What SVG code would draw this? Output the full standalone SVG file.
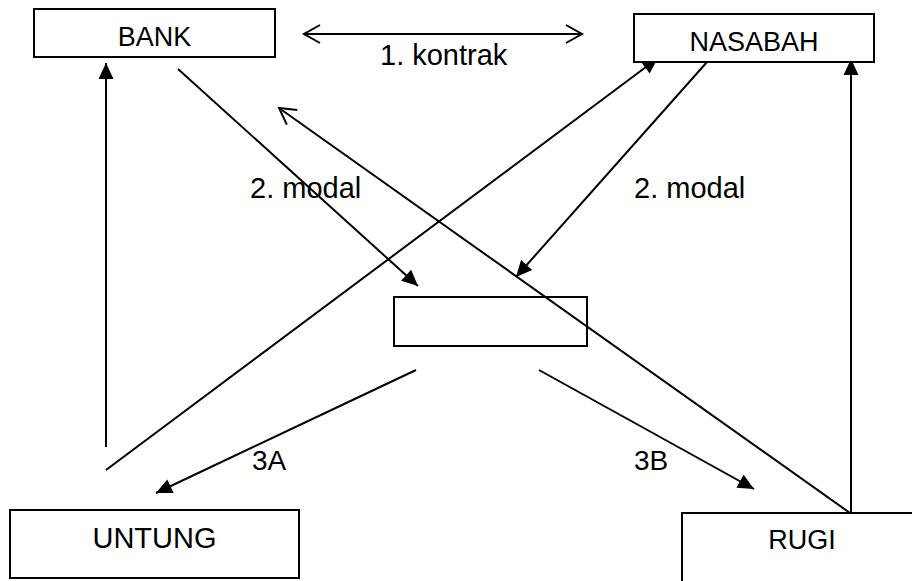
<svg xmlns="http://www.w3.org/2000/svg" width="912" height="581" viewBox="0 0 912 581">
<style>
.box{fill:#fff;stroke:#000;stroke-width:2}
.lbl{font-family:"Liberation Sans",Arial,sans-serif;fill:#000}
.ln{stroke:#000;stroke-width:2;fill:none}
</style>
<defs>
<marker id="fill" markerUnits="userSpaceOnUse" markerWidth="18" markerHeight="16" refX="16" refY="7.5" orient="auto" overflow="visible">
<path d="M0,0 L16,7.5 L0,15 z" fill="#000"/>
</marker>
<marker id="open" markerUnits="userSpaceOnUse" markerWidth="20" markerHeight="22" refX="17" refY="9" orient="auto-start-reverse" overflow="visible">
<path d="M1,0 L17,9 L1,18" fill="none" stroke="#000" stroke-width="2"/>
</marker>
</defs>
<rect width="912" height="581" fill="#fff"/>
<g id="connectors">
<line class="ln" x1="304" y1="34" x2="582" y2="34" marker-start="url(#open)" marker-end="url(#open)"/>
<line class="ln" x1="178" y1="69" x2="418" y2="286" marker-end="url(#fill)"/>
<line class="ln" x1="707" y1="62" x2="516" y2="277" marker-end="url(#fill)"/>
<line class="ln" x1="106" y1="470" x2="658" y2="58" marker-end="url(#fill)"/>
<line class="ln" x1="850" y1="513" x2="279" y2="108" marker-end="url(#open)"/>
<line class="ln" x1="106" y1="447" x2="106" y2="63" marker-end="url(#fill)"/>
<line class="ln" x1="851" y1="513" x2="851" y2="59" marker-end="url(#fill)"/>
<line class="ln" x1="416" y1="370" x2="156" y2="493" marker-end="url(#fill)"/>
<line class="ln" x1="539" y1="370" x2="754" y2="489" marker-end="url(#fill)"/>
<text class="lbl" x="380" y="65" font-size="29">1. kontrak</text>
<text class="lbl" x="250" y="198" font-size="29">2. modal</text>
<text class="lbl" x="634" y="198" font-size="29">2. modal</text>
<text class="lbl" x="252" y="470" font-size="28">3A</text>
<text class="lbl" x="634" y="470" font-size="28">3B</text>
</g>
<g id="bank">
<rect class="box" x="34" y="9" width="241" height="48"/>
<text class="lbl" x="154.5" y="46" font-size="27" text-anchor="middle">BANK</text>
</g>
<g id="nasabah">
<rect class="box" x="634" y="14" width="240" height="48"/>
<text class="lbl" x="754" y="51" font-size="27" text-anchor="middle">NASABAH</text>
</g>
<g id="center">
<rect class="box" x="394" y="297" width="193" height="49" style="fill:none"/>
</g>
<g id="untung">
<rect class="box" x="10" y="510" width="289" height="68"/>
<text class="lbl" x="154.5" y="548" font-size="29" text-anchor="middle">UNTUNG</text>
</g>
<g id="rugi">
<rect class="box" x="682" y="513" width="240" height="80"/>
<text class="lbl" x="802" y="549" font-size="27" text-anchor="middle">RUGI</text>
</g>
</svg>
